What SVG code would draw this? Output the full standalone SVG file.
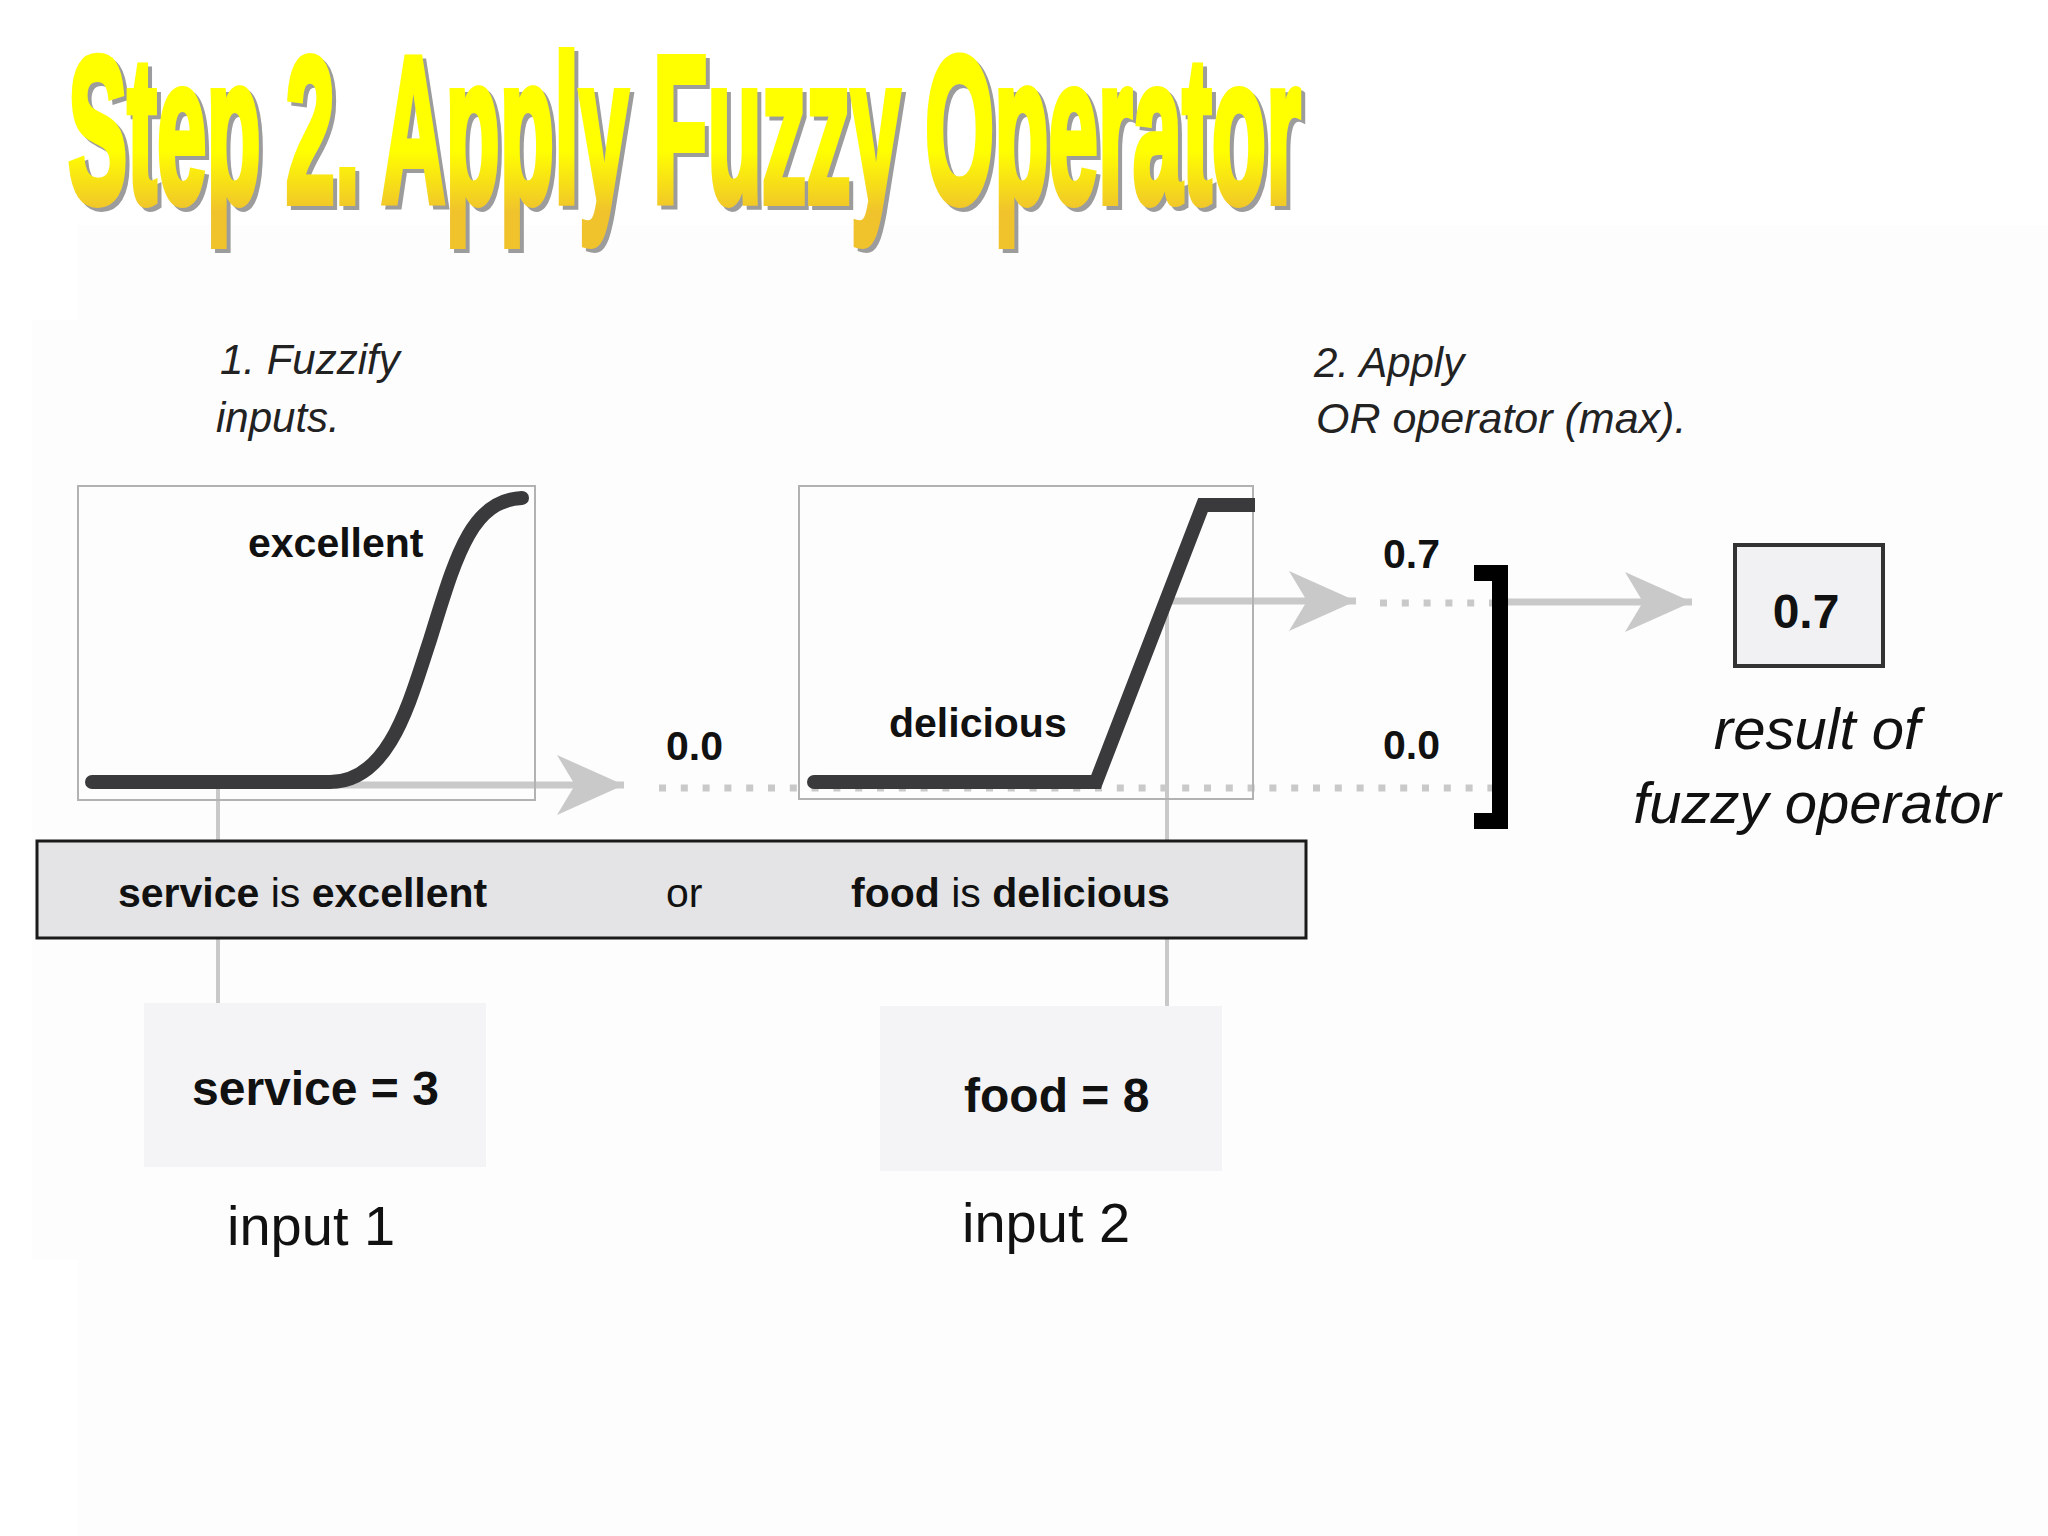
<svg xmlns="http://www.w3.org/2000/svg" width="2048" height="1536" viewBox="0 0 2048 1536">
<defs>
<linearGradient id="ttl" gradientUnits="userSpaceOnUse" x1="0" y1="-64" x2="0" y2="4">
<stop offset="0" stop-color="#ffff00"/>
<stop offset="0.62" stop-color="#ffff00"/>
<stop offset="1" stop-color="#f0c32c"/>
</linearGradient>
<marker id="ah" markerUnits="userSpaceOnUse" markerWidth="70" markerHeight="64" refX="67" refY="30" orient="auto">
<path d="M67,30 L0,0 L18,30 L0,60 Z" fill="#c9c9c9"/>
</marker>
<style>
text{font-family:"Liberation Sans",Arial,Helvetica,sans-serif;fill:#111}
.ttl{font-size:89px;font-weight:bold}
.it{font-style:italic;font-size:42px;fill:#222}
.b{font-weight:bold}
.lbl{font-weight:bold;font-size:41px}
.rule{font-size:41px}
.big{font-size:48px;font-weight:bold}
.inp{font-size:56px}
.res{font-style:italic;font-size:58px;text-anchor:middle}
.plot{fill:none;stroke:#b2b2b2;stroke-width:2}
.mf{fill:none;stroke:#3a3a3c;stroke-width:14;stroke-linecap:round;stroke-linejoin:round}
.gl{stroke:#c9c9c9;stroke-width:7;fill:none}
.gv{stroke:#c9c9c9;stroke-width:4;fill:none}
.dot{stroke:#c9c9c9;stroke-width:7;stroke-dasharray:7 14.8;fill:none}
.inbox{fill:#f4f4f6}
</style>
</defs>
<rect width="2048" height="1536" fill="#ffffff"/>
<rect x="78" y="225" width="1970" height="1311" fill="#fefdfe"/>
<rect x="32" y="320" width="2016" height="940" fill="#fefdfe"/>

<g id="title">
<g transform="translate(72,206) scale(1,2.34)">
<text class="ttl" x="0" y="0" style="fill:#9c9c9c;stroke:#9c9c9c;stroke-width:6" vector-effect="non-scaling-stroke">Step 2. Apply Fuzzy Operator</text>
</g>
<g transform="translate(68,202) scale(1,2.34)">
<text class="ttl" x="0" y="0" style="fill:url(#ttl);stroke:url(#ttl);stroke-width:6" vector-effect="non-scaling-stroke">Step 2. Apply Fuzzy Operator</text>
</g>
</g>

<g id="connectors">
<line class="gl" x1="335" y1="785" x2="624" y2="785" marker-end="url(#ah)"/>
<line class="gv" x1="218" y1="788" x2="218" y2="1003"/>
<line class="gv" x1="1167" y1="601" x2="1167" y2="1006"/>
<line class="gl" x1="1170" y1="601" x2="1356" y2="601" marker-end="url(#ah)"/>
<line class="dot" x1="659" y1="788" x2="1492" y2="788"/>
<line class="dot" x1="1380" y1="603" x2="1492" y2="603"/>
<line class="gl" x1="1500" y1="602" x2="1692" y2="602" marker-end="url(#ah)"/>
</g>

<g id="step1-label">
<text class="it" x="220" y="374">1. Fuzzify</text>
<text class="it" x="216" y="432">inputs.</text>
</g>

<g id="step2-label">
<text class="it" x="1314" y="377">2. Apply</text>
<text class="it" x="1316" y="433" style="font-size:43px">OR operator (max).</text>
</g>

<g id="plot-excellent">
<rect class="plot" x="78" y="486" width="457" height="314"/>
<path class="mf" d="M92,782 H330 C390,782 410,700 430,640 C455,560 470,500 522,498"/>
<text class="lbl" x="248" y="557">excellent</text>
</g>

<g id="plot-delicious">
<rect class="plot" x="799" y="486" width="454" height="313"/>
<path class="mf" d="M814,782 H1096 L1203,505 H1255" style="stroke-linecap:butt;stroke-linejoin:miter"/>
<path class="mf" d="M814,782 H820"/>
<text class="lbl" x="889" y="737">delicious</text>
</g>

<g id="value-left">
<text class="lbl" x="666" y="760">0.0</text>
</g>

<g id="or-operator">
<text class="lbl" x="1383" y="568">0.7</text>
<text class="lbl" x="1383" y="759">0.0</text>
<path d="M1474,573 H1500 V821 H1474" fill="none" stroke="#000" stroke-width="16" stroke-linejoin="miter"/>
</g>

<g id="result">
<rect x="1735" y="545" width="148" height="121" fill="#f1f1f3" stroke="#333" stroke-width="4"/>
<text class="big" x="1806" y="628" text-anchor="middle">0.7</text>
<text class="res" x="1817" y="749">result of</text>
<text class="res" x="1817" y="823">fuzzy operator</text>
</g>

<g id="rule">
<rect x="37" y="841" width="1269" height="97" fill="#e4e4e6" stroke="#1a1a1a" stroke-width="3"/>
<text class="rule" x="118" y="907"><tspan class="b">service</tspan> is <tspan class="b">excellent</tspan></text>
<text class="rule" x="666" y="907">or</text>
<text class="rule" x="851" y="907"><tspan class="b">food</tspan> is <tspan class="b">delicious</tspan></text>
</g>

<g id="input1">
<rect class="inbox" x="144" y="1003" width="342" height="164"/>
<text class="big" x="192" y="1105">service = 3</text>
<text class="inp" x="227" y="1245">input 1</text>
</g>

<g id="input2">
<rect class="inbox" x="880" y="1006" width="342" height="165"/>
<text class="big" x="964" y="1112">food = 8</text>
<text class="inp" x="962" y="1242">input 2</text>
</g>
</svg>
